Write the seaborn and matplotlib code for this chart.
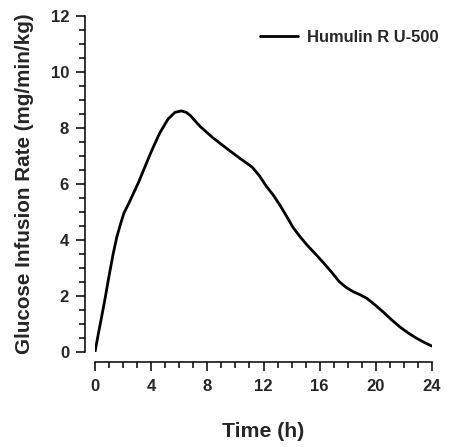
import matplotlib
matplotlib.use("Agg")
import matplotlib.pyplot as plt
from matplotlib.ticker import MultipleLocator
import pandas as pd
import seaborn as sns

# glucose infusion rate
time_h = [0, 0.2, 0.45, 0.7, 1.0, 1.3, 1.55, 1.8, 2.05, 2.4, 3.1, 4.0, 4.6,
          5.2, 5.7, 6.15, 6.5, 6.8, 7.1, 7.5, 8.4, 9.3, 10.2, 11.2, 11.7,
          12.2, 12.7, 13.2, 13.7, 14.1, 14.6, 15.1, 15.7, 16.3, 16.9, 17.4,
          17.9, 18.4, 18.9, 19.35, 19.9, 20.5, 21.1, 21.7, 22.3, 22.9, 23.5,
          24.0]
gir = [0, 0.55, 1.2, 1.86, 2.72, 3.52, 4.1, 4.54, 4.95, 5.30, 6.06, 7.15,
       7.81, 8.32, 8.56, 8.61, 8.56, 8.44, 8.27, 8.05, 7.65, 7.30, 6.96,
       6.60, 6.30, 5.92, 5.60, 5.22, 4.80, 4.45, 4.12, 3.82, 3.50, 3.17,
       2.82, 2.51, 2.30, 2.15, 2.04, 1.92, 1.70, 1.44, 1.16, 0.90, 0.68,
       0.49, 0.33, 0.21]
series_name = "Humulin R U-500"

df = pd.DataFrame({"Time (h)": time_h, "GIR": gir, "Insulin": series_name})

sns.set_style("ticks")
plt.rcParams["font.family"] = ["Liberation Sans", "DejaVu Sans"]
plt.rcParams["font.weight"] = "bold"

fig = plt.figure(figsize=(4.5, 4.47), dpi=100)
ax = fig.add_axes([95 / 450, 1 - 352 / 447, 337 / 450, 336 / 447])

sns.lineplot(data=df, x="Time (h)", y="GIR", hue="Insulin",
             palette=["black"], linewidth=2.0, ax=ax)
for ln in ax.get_lines():
    ln.set_solid_joinstyle("round")
    ln.set_solid_capstyle("round")

ax.set_xlim(0, 24)
ax.set_ylim(0, 12)
ax.xaxis.set_major_locator(MultipleLocator(4))
ax.xaxis.set_minor_locator(MultipleLocator(1))
ax.yaxis.set_major_locator(MultipleLocator(2))
ax.yaxis.set_minor_locator(MultipleLocator(0.5))

sns.despine(ax=ax, offset=7.2)
for s in ["left", "bottom"]:
    ax.spines[s].set_linewidth(1.1)
    ax.spines[s].set_color("black")
ax.tick_params(which="major", length=6.5, width=1.1, color="black",
               labelsize=12, pad=5)
ax.tick_params(axis="x", which="major", pad=6)
ax.tick_params(which="minor", length=4, width=1.1, color="black")
for lab in ax.get_xticklabels() + ax.get_yticklabels():
    lab.set_fontweight("bold")

ax.set_xlabel("Time (h)", fontsize=15.3, fontweight="bold", labelpad=20)
ax.set_ylabel("Glucose Infusion Rate (mg/min/kg)", fontsize=14.9,
              fontweight="bold", labelpad=12)

leg = ax.legend(loc="upper right", bbox_to_anchor=(439 / 450, 1 - 30 / 447),
                bbox_transform=fig.transFigure, frameon=False,
                handlelength=2.3, handletextpad=0.55, borderpad=0,
                borderaxespad=0, prop={"size": 11.9, "weight": "bold"})

fig.savefig("out.png", dpi=100)
